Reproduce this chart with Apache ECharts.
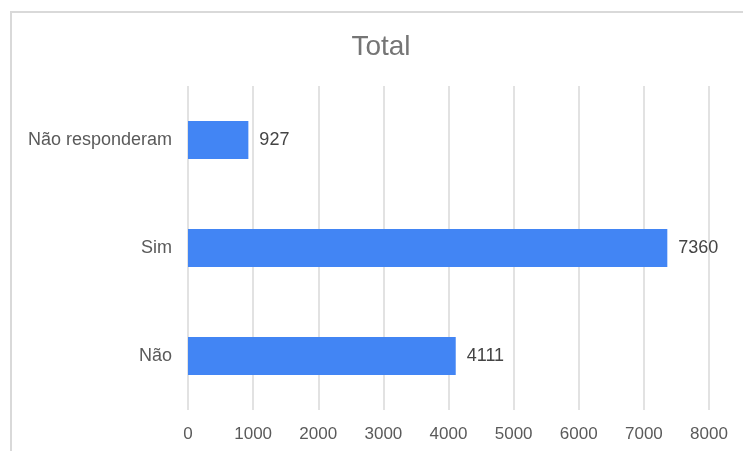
<!DOCTYPE html>
<html>
<head>
<meta charset="utf-8">
<script src="https://cdn.jsdelivr.net/npm/echarts@6/dist/echarts.min.js"></script>
<style>
  html, body { margin: 0; padding: 0; background: #ffffff; }
  #chart { width: 743px; height: 451px; }
</style>
</head>
<body>
<div id="chart"></div>
<script>
const titleText = 'Total';
const categories = ['Não', 'Sim', 'Não responderam'];
const values = [4111, 7360, 927];
const xTicks = { min: 0, max: 8000, interval: 1000 };

const chart = echarts.init(document.getElementById('chart'), null, { renderer: 'canvas' });
chart.setOption({
  backgroundColor: '#ffffff',
  animation: false,
  title: {
    text: titleText,
    left: 376,
    top: 28,
    textAlign: 'center',
    textStyle: { fontFamily: 'Arial, "Liberation Sans", sans-serif', fontSize: 28, fontWeight: 'normal', color: '#757575' }
  },
  graphic: [
    {
      type: 'rect',
      shape: { x: 11, y: 12, width: 900, height: 600 },
      style: { fill: 'none', stroke: '#d9d9d9', lineWidth: 2 },
      silent: true,
      z: -1
    },
    {
      type: 'text',
      x: 271,
      y: 0,
      style: { text: 'p', font: '24px "Liberation Serif", "DejaVu Serif", serif', fill: '#000000', verticalAlign: 'bottom', align: 'left' },
      silent: true
    }
  ],
  grid: { left: 188, right: 34, top: 86, bottom: 41, containLabel: false },
  xAxis: {
    type: 'value',
    min: xTicks.min,
    max: xTicks.max,
    interval: xTicks.interval,
    axisLine: { show: false },
    axisTick: { show: false },
    splitLine: { show: true, lineStyle: { color: '#d9d9d9', width: 1.5 } },
    axisLabel: {
      margin: 16,
      formatter: function (v) { return String(v); },
      fontFamily: 'Arial, "Liberation Sans", sans-serif', fontSize: 17, color: '#5a5a5a'
    }
  },
  yAxis: {
    type: 'category',
    data: categories,
    axisLine: { show: false },
    axisTick: { show: false },
    splitLine: { show: false },
    axisLabel: { margin: 16, fontFamily: 'Arial, "Liberation Sans", sans-serif', fontSize: 18, color: '#5a5a5a' }
  },
  series: [{
    type: 'bar',
    data: values,
    barWidth: 38,
    itemStyle: { color: '#4285f4' },
    label: {
      show: true,
      position: 'right',
      distance: 11,
      fontFamily: 'Arial, "Liberation Sans", sans-serif',
      fontSize: 18,
      color: '#444444'
    }
  }]
});
</script>
</body>
</html>
